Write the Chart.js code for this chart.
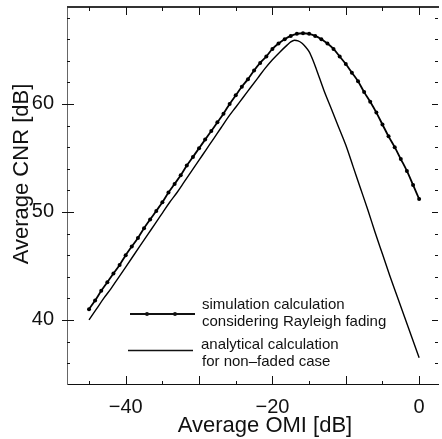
<!DOCTYPE html>
<html>
<head>
<meta charset="utf-8">
<script src="https://cdn.jsdelivr.net/npm/chart.js@4/dist/chart.umd.min.js"></script>
<style>
  html, body { margin: 0; padding: 0; background: #fff; }
  canvas { display: block; }
</style>
</head>
<body>
<canvas id="cnr" width="442" height="439"></canvas>
<script>
// simulation, Rayleigh fading (one dot every 5/6 dB)
const simOmi = [-45, -44.17, -43.33, -42.5, -41.67, -40.83, -40, -39.17, -38.33, -37.5,
  -36.67, -35.83, -35, -34.17, -33.33, -32.5, -31.67, -30.83, -30, -29.17,
  -28.33, -27.5, -26.67, -25.83, -25, -24.17, -23.33, -22.5, -21.67, -20.83,
  -20, -19.17, -18.33, -17.5, -16.67, -15.83, -15, -14.17, -13.33, -12.5,
  -11.67, -10.83, -10, -9.17, -8.33, -7.5, -6.67, -5.83, -5, -4.17,
  -3.33, -2.5, -1.67, -0.83, 0];
const simCnr = [41.0, 41.8, 42.7, 43.5, 44.3, 45.1, 46.0, 46.8, 47.6, 48.5,
  49.3, 50.1, 50.9, 51.8, 52.6, 53.4, 54.3, 55.1, 55.9, 56.7,
  57.5, 58.3, 59.1, 60.0, 60.8, 61.6, 62.3, 63.1, 63.8, 64.4,
  65.1, 65.6, 66.0, 66.3, 66.5, 66.55, 66.5, 66.3, 66.0, 65.6,
  65.1, 64.4, 63.7, 62.9, 62.1, 61.1, 60.2, 59.2, 58.1, 57.0,
  56.0, 54.9, 53.8, 52.5, 51.2];

// analytical, non-faded
const anaOmi = [-45, -44, -43, -42, -41, -40, -39, -38, -37, -36, -35, -34, -33, -32, -31, -30,
  -29, -28, -27, -26, -25, -24, -23, -22, -21, -20, -19, -18, -17.5, -17, -16.5, -16, -15.5, -15,
  -14.5, -14, -13, -12, -11, -10, -9, -8, -7, -6, -5, -4, -3, -2, -1, 0];
const anaCnr = [40.0, 41.0, 42.0, 42.9, 43.9, 44.9, 45.9, 46.9, 47.9, 48.9, 49.9, 50.9, 51.8, 52.8, 53.8, 54.8,
  55.8, 56.8, 57.8, 58.8, 59.7, 60.6, 61.5, 62.4, 63.3, 64.1, 64.8, 65.45, 65.75, 65.9, 65.85, 65.65, 65.3, 64.85,
  64.1, 63.2, 61.3, 59.6, 57.9, 56.2, 54.2, 52.2, 50.2, 48.1, 46.1, 44.1, 42.2, 40.3, 38.4, 36.5];

const xLabelTicks = [-40, -20, 0];
const xMajorTicks = [-40, -30, -20, -10, 0];
const xMinorTicks = [-45, -35, -25, -15, -5];
const yLabelTicks = [40, 50, 60];
const yMinorTicks = [36, 38, 42, 44, 46, 48, 52, 54, 56, 58, 62, 64, 66, 68];

const xTitle = "Average OMI [dB]";
const yTitle = "Average CNR [dB]";
const simLabel = ["simulation calculation", "considering Rayleigh fading"];
const anaLabel = ["analytical calculation", "for non\u2013faded case"];

const FONT = "'Liberation Sans', Arial, Helvetica, sans-serif";
const INK = "#111";

const minus = (v) => (v < 0 ? "\u2212" + Math.abs(v) : String(v));

function seg(ctx, x1, y1, x2, y2) {
  ctx.beginPath();
  ctx.moveTo(x1, y1);
  ctx.lineTo(x2, y2);
  ctx.stroke();
}

// inward ticks, top border, titles and the in-plot legend
const frame = {
  id: "frame",
  afterDraw(chart) {
    const { ctx, chartArea: a, scales: { x, y } } = chart;
    ctx.save();
    ctx.strokeStyle = "#333";
    ctx.lineWidth = 2;
    seg(ctx, a.left, a.top, a.right + 1, a.top);

    ctx.lineWidth = 1;
    ctx.strokeStyle = INK;
    xMajorTicks.forEach((v) => {
      const px = Math.round(x.getPixelForValue(v)) + 0.5;
      seg(ctx, px, a.top, px, a.top + 8);
      seg(ctx, px, a.bottom, px, a.bottom - 8);
    });
    xMinorTicks.forEach((v) => {
      const px = Math.round(x.getPixelForValue(v)) + 0.5;
      seg(ctx, px, a.top, px, a.top + 4);
      seg(ctx, px, a.bottom, px, a.bottom - 3);
    });
    yLabelTicks.forEach((v) => {
      const py = Math.round(y.getPixelForValue(v)) + 0.5;
      seg(ctx, a.left - 5, py, a.left + 7, py);
      seg(ctx, a.right - 6, py, a.right, py);
    });
    yMinorTicks.forEach((v) => {
      const py = Math.round(y.getPixelForValue(v)) + 0.5;
      seg(ctx, a.left, py, a.left + 3, py);
      seg(ctx, a.right - 3, py, a.right, py);
    });

    // axis titles
    ctx.fillStyle = INK;
    ctx.font = "22px " + FONT;
    ctx.textAlign = "center";
    ctx.textBaseline = "alphabetic";
    ctx.fillText(xTitle, 265, 432);
    ctx.save();
    ctx.translate(28, 174);
    ctx.rotate(-Math.PI / 2);
    ctx.fillText(yTitle, 0, 0);
    ctx.restore();

    // legend
    ctx.font = "15px " + FONT;
    ctx.textAlign = "left";
    ctx.lineWidth = 1.8;
    seg(ctx, 130, 314, 195, 314);
    [147, 175].forEach((px) => {
      ctx.beginPath();
      ctx.arc(px, 314, 2, 0, Math.PI * 2);
      ctx.fill();
    });
    ctx.fillText(simLabel[0], 202, 309);
    ctx.fillText(simLabel[1], 202, 326);
    ctx.lineWidth = 1.3;
    seg(ctx, 128, 350.5, 193, 350.5);
    ctx.fillText(anaLabel[0], 201, 349);
    ctx.fillText(anaLabel[1], 202, 366);
    ctx.restore();
  },
};

new Chart(document.getElementById("cnr"), {
  type: "scatter",
  data: {
    datasets: [
      {
        label: simLabel.join(" "),
        data: simOmi.map((v, i) => ({ x: v, y: simCnr[i] })),
        showLine: true,
        borderColor: "#000",
        backgroundColor: "#000",
        borderWidth: 1.8,
        pointRadius: 2,
        pointBorderWidth: 0,
        cubicInterpolationMode: "monotone",
      },
      {
        label: anaLabel.join(" "),
        data: anaOmi.map((v, i) => ({ x: v, y: anaCnr[i] })),
        showLine: true,
        borderColor: "#000",
        borderWidth: 1.4,
        pointRadius: 0,
        cubicInterpolationMode: "monotone",
      },
    ],
  },
  options: {
    responsive: false,
    animation: false,
    devicePixelRatio: 1,
    layout: { padding: { top: 7, right: 1, left: 0, bottom: 0 } },
    plugins: { legend: { display: false }, tooltip: { enabled: false } },
    scales: {
      x: {
        type: "linear",
        min: -48,
        max: 2.57,
        grid: { display: false },
        border: { display: true, color: INK, width: 1 },
        afterBuildTicks: (s) => { s.ticks = xLabelTicks.map((v) => ({ value: v })); },
        afterFit: (s) => { s.height = 55; s.paddingLeft = 0; s.paddingRight = 0; },
        ticks: {
          color: INK,
          padding: 3,
          maxRotation: 0,
          font: { family: FONT, size: 20 },
          callback: (v) => minus(v),
        },
      },
      y: {
        type: "linear",
        min: 34.07,
        max: 68.98,
        grid: { display: false },
        border: { display: true, color: "#666", width: 1 },
        afterBuildTicks: (s) => { s.ticks = yLabelTicks.map((v) => ({ value: v })); },
        afterFit: (s) => { s.width = 67; s.paddingTop = 0; s.paddingBottom = 0; },
        ticks: {
          color: INK,
          padding: 5,
          font: { family: FONT, size: 20 },
        },
      },
    },
  },
  plugins: [frame],
});
</script>
</body>
</html>
